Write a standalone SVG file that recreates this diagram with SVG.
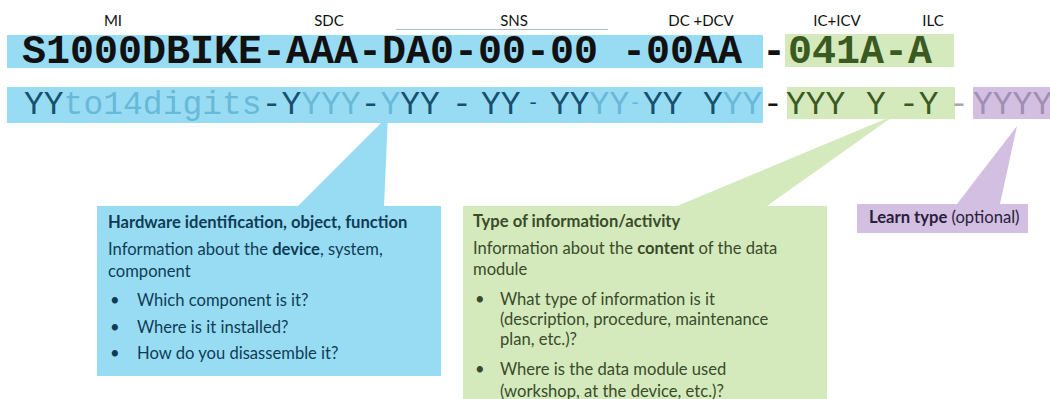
<svg xmlns="http://www.w3.org/2000/svg" width="1050" height="399" viewBox="0 0 1050 399">
<style>
.lbl{font-family:Lato,"Noto Sans",sans-serif;font-size:15px;fill:#111;text-anchor:middle}
.code1{font-family:"Liberation Mono",monospace;font-size:40px;font-weight:bold;fill:#111}
.code2{font-family:"Liberation Mono",monospace;font-size:33px;}
.dk{fill:#17506f}.lt{fill:#68b9d8}.bk{fill:#111}.gd{fill:#3b5a22}.gr{fill:#a9a9a9}.pu{fill:#a08fb0}
.blue{fill:#98dcf4}.green{fill:#d4eabd}.purple{fill:#d2bfe2}
.ct{font-family:Lato,"Noto Sans",sans-serif;font-size:16.6px}
.b{font-weight:bold}
.tb{fill:#0f3c55}.tg{fill:#3a4a2a}.tp{fill:#2a1d3a}
</style>
<g id="labels">
<text class="lbl" x="113" y="26">MI</text>
<text class="lbl" x="329" y="26">SDC</text>
<text class="lbl" x="514" y="26">SNS</text>
<line x1="396" y1="29.5" x2="608" y2="29.5" stroke="#a9bdd6" stroke-width="1"/>
<text class="lbl" x="701" y="26">DC +DCV</text>
<text class="lbl" x="837" y="26">IC+ICV</text>
<text class="lbl" x="933" y="26">ILC</text>
</g>
<g id="row1">
<rect class="blue" x="7" y="35" width="756" height="33"/>
<rect class="green" x="785" y="34" width="169" height="33"/>
<text class="code1" x="22" y="63">S1000DBIKE-AAA-DA0-00-00 -00AA</text>
<text class="code1" x="762" y="63">-</text>
<text class="code1" x="788" y="63" style="fill:#3b5a22">041A-A</text>
</g>
<g id="row2">
<rect class="blue" x="7" y="87" width="756" height="36"/>
<rect class="green" x="787" y="87" width="168" height="32"/>
<rect class="purple" x="973" y="87" width="77" height="32"/>
<text class="code2" y="114"><tspan class="dk" x="24">YY</tspan><tspan class="lt">to14digits</tspan><tspan class="dk">-Y</tspan><tspan class="lt">YYY</tspan><tspan class="dk">-</tspan><tspan class="lt">Y</tspan><tspan class="dk">YY</tspan><tspan class="dk" x="452">-</tspan><tspan class="dk" x="481">YY</tspan><tspan class="dk" x="550">YY</tspan><tspan class="lt">YY</tspan><tspan class="dk" x="643">YY</tspan><tspan class="dk" x="703">Y</tspan><tspan class="lt">YY</tspan><tspan class="bk" x="763">-</tspan><tspan class="gd" x="786">YYY</tspan><tspan class="gd" x="866">Y</tspan><tspan class="gd" x="899">-Y</tspan><tspan class="gr" x="949">-</tspan><tspan class="pu" x="973">YYYY</tspan></text>
<text font-family="Lato,sans-serif" font-size="22" y="110"><tspan class="dk" x="529">-</tspan><tspan class="lt" x="631">-</tspan></text>
</g>
<g id="callout-hardware">
<polygon class="blue" points="298,206 384,206 388,116"/>
<rect class="blue" x="97" y="206" width="344" height="170"/>
<text class="ct tb b" x="108" y="228">Hardware identification, object, function</text>
<text class="ct tb" x="108" y="255">Information about the <tspan class="b">device</tspan>, system,</text>
<text class="ct tb" x="108" y="277">component</text>
<text class="ct tb" x="110" y="306">•</text><text class="ct tb" x="137" y="306">Which component is it?</text>
<text class="ct tb" x="110" y="333">•</text><text class="ct tb" x="137" y="333">Where is it installed?</text>
<text class="ct tb" x="110" y="359">•</text><text class="ct tb" x="137" y="359">How do you disassemble it?</text>
</g>
<g id="callout-info">
<polygon class="green" points="677,206 767,206 895,115"/>
<rect class="green" x="463" y="206" width="364" height="193"/>
<text class="ct tg b" x="473" y="227">Type of information/activity</text>
<text class="ct tg" x="473" y="254">Information about the <tspan class="b">content</tspan> of the data</text>
<text class="ct tg" x="473" y="275">module</text>
<text class="ct tg" x="475" y="305">•</text><text class="ct tg" x="500" y="305">What type of information is it</text>
<text class="ct tg" x="500" y="325">(description, procedure, maintenance</text>
<text class="ct tg" x="500" y="345">plan, etc.)?</text>
<text class="ct tg" x="475" y="375">•</text><text class="ct tg" x="500" y="375">Where is the data module used</text>
<text class="ct tg" x="500" y="397">(workshop, at the device, etc.)?</text>
</g>
<g id="callout-learn">
<polygon class="purple" points="957,204 1000,204 1017,126"/>
<rect class="purple" x="857" y="204" width="171" height="29"/>
<text class="ct tp" x="869" y="223"><tspan class="b">Learn type</tspan> (optional)</text>
</g>
</svg>
